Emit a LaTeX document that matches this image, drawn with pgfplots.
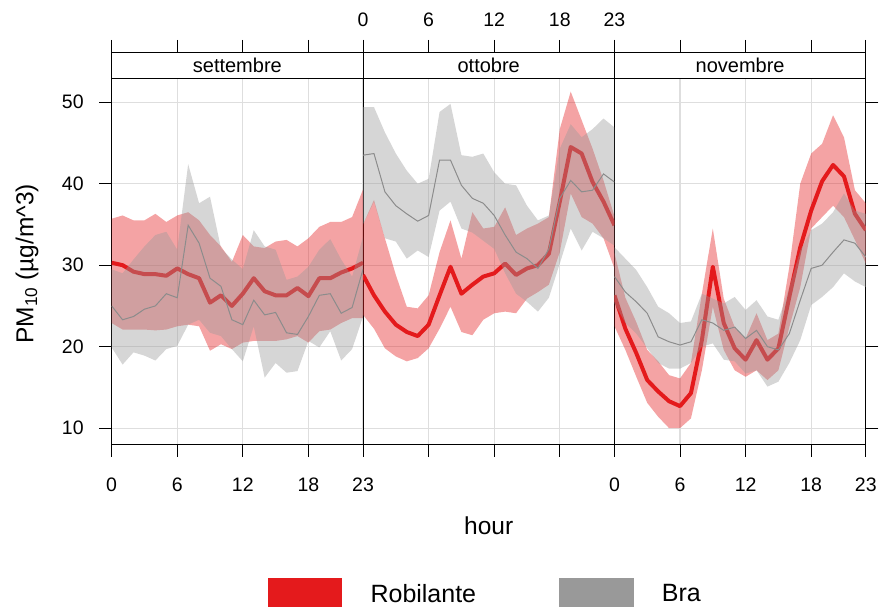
\documentclass[border=0pt]{standalone}
\usepackage{pgfplots}
\pgfplotsset{compat=1.18}
\usepackage{pgfplotstable}
\usepgfplotslibrary{fillbetween}
\usepackage{fontspec}
\setmainfont{Liberation Sans}
\definecolor{rob}{HTML}{E41A1C}
\definecolor{bra}{HTML}{999999}
\definecolor{braline}{HTML}{8C8C8C}
\definecolor{gridc}{HTML}{DEDEDE}
\tikzset{fill between/on layer=main}

% settembre
\pgfplotstableread{
h  rm    rl    ru    bm    bl    bu
0  30.3  22.9  35.7  25.0  19.9  29.5
1  30.0  22.1  36.1  23.3  17.8  29.0
2  29.2  22.1  35.5  23.7  19.3  30.7
3  28.9  22.1  35.5  24.6  18.9  32.3
4  28.9  22.0  36.3  25.0  18.3  33.7
5  28.7  22.1  35.3  26.5  19.7  34.1
6  29.6  22.5  36.1  26.0  20.1  31.9
7  28.9  22.7  36.5  34.9  22.7  42.4
8  28.4  22.5  35.5  32.7  23.3  37.6
9  25.4  19.5  33.7  28.4  21.7  38.4
10 26.3  20.3  32.3  27.4  21.3  32.1
11 25.0  19.7  30.4  23.3  19.7  30.7
12 26.5  20.5  33.7  22.7  18.2  29.5
13 28.4  20.7  32.3  25.7  22.5  34.3
14 26.8  20.7  32.1  23.9  16.2  32.3
15 26.3  20.7  32.9  24.2  18.0  31.9
16 26.3  20.9  33.1  21.7  16.8  28.2
17 27.2  21.3  32.3  21.5  17.0  28.6
18 26.2  20.5  33.3  23.7  20.7  29.8
19 28.4  21.9  34.7  26.3  19.9  31.9
20 28.4  22.1  35.3  26.5  21.9  33.2
21 29.1  22.9  35.3  24.1  18.3  30.7
22 29.6  23.5  35.9  24.8  19.7  28.6
23 30.3  23.5  39.3  29.5  23.7  33.5
}\tS

% ottobre
\pgfplotstableread{
h  rm    rl    ru    bm    bl    bu
0  28.8  23.9  35.0  43.5  35.0  49.4
1  26.3  22.2  38.0  43.7  37.8  49.4
2  24.3  19.8  33.3  39.0  33.3  46.3
3  22.7  18.8  28.8  37.3  32.9  43.7
4  21.8  18.2  24.9  36.3  30.8  41.6
5  21.3  18.6  24.7  35.4  31.8  40.0
6  22.7  19.8  26.3  36.1  31.0  40.6
7  26.3  22.2  31.6  42.9  36.7  48.8
8  29.8  24.9  35.5  42.9  37.8  49.8
9  26.5  21.8  30.8  39.8  34.5  43.5
10 27.6  21.4  36.5  38.2  34.0  43.3
11 28.6  23.3  34.5  37.6  33.0  43.7
12 29.0  24.1  34.7  36.1  32.0  41.4
13 30.2  24.3  37.1  33.7  29.0  40.0
14 28.8  24.1  33.7  31.6  26.5  39.8
15 29.6  25.9  34.5  30.8  25.5  37.3
16 30.0  26.7  35.1  29.6  24.3  35.5
17 31.4  27.6  35.9  32.0  26.0  36.1
18 37.8  31.6  46.7  38.2  30.2  44.3
19 44.5  38.8  51.3  40.4  34.5  47.3
20 43.7  35.9  47.8  39.0  31.8  45.7
21 40.2  35.1  44.3  39.2  34.1  46.7
22 37.8  33.3  40.4  41.2  33.3  48.0
23 34.9  29.6  36.0  40.2  32.4  46.9
}\tO

% novembre
\pgfplotstableread{
h  rm    rl    ru    bm    bl    bu
0  26.3  22.5  31.5  28.6  25.3  32.2
1  22.2  19.6  26.0  26.7  22.9  30.8
2  19.2  16.3  23.0  25.5  21.6  29.4
3  15.9  13.1  19.6  24.1  19.8  27.3
4  14.5  11.4  18.2  21.2  18.0  24.9
5  13.3  10.0  16.5  20.6  17.3  24.1
6  12.7  10.0  16.1  20.2  17.3  22.9
7  14.3  11.2  18.0  20.6  18.0  23.1
8  20.8  17.1  26.5  23.3  20.0  26.5
9  29.8  24.9  34.5  22.9  20.4  25.9
10 22.9  19.6  25.9  22.0  18.4  25.3
11 19.8  17.1  22.4  22.4  18.2  26.1
12 18.4  16.3  21.0  21.0  16.7  24.5
13 20.8  17.1  24.1  22.0  17.1  25.7
14 18.4  15.9  20.8  20.0  15.1  23.7
15 19.8  17.1  21.6  19.6  15.7  23.3
16 26.1  22.4  29.8  21.6  18.0  27.3
17 32.2  27.3  40.0  25.7  20.8  31.8
18 36.7  34.5  43.7  29.6  25.1  34.3
19 40.3  35.9  44.9  30.0  26.1  35.1
20 42.3  37.3  48.4  31.6  27.3  36.5
21 40.9  35.9  45.7  33.1  29.0  38.8
22 36.3  33.1  39.2  32.7  28.0  36.7
23 34.3  30.2  37.6  31.0  27.3  36.3
}\tN

\newcommand{\tickfont}{\fontsize{19.5}{23}\selectfont}
\newcommand{\labfont}{\fontsize{24.5}{29}\selectfont}

\pgfplotsset{
  panel/.style={
    scale only axis, width=251.5pt, height=366pt, anchor=south west,
    xmin=0, xmax=23, ymin=8.04, ymax=52.94,
    xtick={0,6,12,18,23}, ytick={10,20,30,40,50},
    grid=major, major grid style={gridc, line width=1.2pt},
    axis line style={black, line width=1pt},
    tick style={black, line width=1pt},
    tick align=outside, major tick length=12.5pt,
    tick label style={font=\tickfont},
    xticklabel style={yshift=-18pt},
    yticklabel style={xshift=-12pt},
    /pgf/number format/assume math mode=true,
    xtick pos=bottom,
  },
  stripax/.style={
    scale only axis, width=251.5pt, height=392pt, anchor=south west,
    xmin=0, xmax=23, ymin=0, ymax=1, hide y axis, axis x line*=top,
    xtick={0,6,12,18,23}, tick align=outside, major tick length=12.5pt,
    axis line style={black, line width=1pt},
    tick style={black, line width=1pt},
    tick label style={font=\tickfont},
    xticklabel style={yshift=10pt},
    /pgf/number format/assume math mode=true,
    clip=false,
  },
}

\newcommand{\drawpanel}[2]{%
  \addplot[draw=none, name path=#2ru] table[x=h,y=ru]{#1};
  \addplot[draw=none, name path=#2rl] table[x=h,y=rl]{#1};
  \addplot[fill=rob, fill opacity=0.4, draw=none] fill between[of=#2ru and #2rl];
  \addplot[rob, line width=4pt, line join=round] table[x=h,y=rm]{#1};
  \addplot[draw=none, name path=#2bu] table[x=h,y=bu]{#1};
  \addplot[draw=none, name path=#2bl] table[x=h,y=bl]{#1};
  \addplot[fill=bra, fill opacity=0.4, draw=none] fill between[of=#2bu and #2bl];
  \addplot[braline, line width=1pt] table[x=h,y=bm]{#1};
}

\newcommand{\strip}[1]{%
  \draw[black, line width=1pt, fill=white] (axis description cs:0,0.93367) rectangle (axis description cs:1,1);
  \node[font=\fontsize{20}{24}\selectfont] at (axis description cs:0.5,0.96684) {#1};
}

\begin{document}
\begin{tikzpicture}
\path (0,0) rectangle (880pt,610pt);

% panel 1
\begin{axis}[panel, at={(111.7pt,165.7pt)}, ytick pos=left,
  ylabel={PM\textsubscript{10} (µg/m\textasciicircum 3)},
  ylabel style={at={(axis description cs:-0.3368,0.4926)}, anchor=center, font=\labfont}]
\drawpanel{\tS}{s}
\end{axis}

% panel 2
\begin{axis}[panel, at={(363.2pt,165.7pt)}, xticklabels={}, yticklabels={}, ytick style={draw=none},
  xlabel={hour},
  xlabel style={at={(axis description cs:0.5,-0.2478)}, anchor=base, font=\labfont}]
\drawpanel{\tO}{o}
\end{axis}

% panel 3
\begin{axis}[panel, at={(614.7pt,165.7pt)}, ytick pos=right, yticklabels={}]
\drawpanel{\tN}{n}
\end{axis}

% strips and top ticks
\begin{axis}[stripax, at={(111.7pt,165.7pt)}, xticklabels={}]
\addplot[draw=none, forget plot] coordinates {(0,0)};
\strip{settembre}
\end{axis}

\begin{axis}[stripax, at={(363.2pt,165.7pt)},
  legend columns=2,
  legend style={at={(0.4823,-0.3768)}, anchor=center, draw=none, fill=none,
    font=\fontsize{25}{30}\selectfont, nodes={inner sep=0pt},
    /tikz/every odd column/.append style={column sep=29pt},
    /tikz/every even column/.append style={column sep=83pt}}]
\addplot[draw=none, forget plot] coordinates {(0,0)};
\strip{ottobre}
\addlegendimage{legend image code/.code={\fill[rob] (0pt,-12pt) rectangle (73.5pt,16pt);}}
\addlegendentry{Robilante}
\addlegendimage{legend image code/.code={\fill[bra] (0pt,-12pt) rectangle (73.5pt,16pt);}}
\addlegendentry{Bra}
\end{axis}

\begin{axis}[stripax, at={(614.7pt,165.7pt)}, xticklabels={}]
\addplot[draw=none, forget plot] coordinates {(0,0)};
\strip{novembre}
\end{axis}

\end{tikzpicture}
\end{document}
